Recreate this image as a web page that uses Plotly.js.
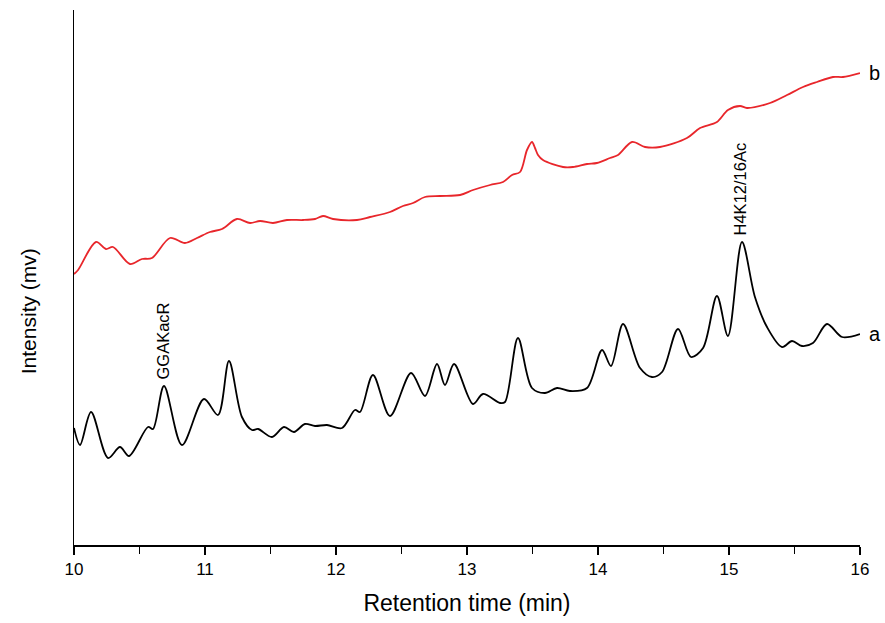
<!DOCTYPE html>
<html>
<head>
<meta charset="utf-8">
<script src="https://cdn.plot.ly/plotly-3.0.1.min.js"></script>
<style>html,body{margin:0;padding:0;background:#fff;}#chart{width:885px;height:623px;}</style>
</head>
<body>
<div id="chart"></div>
<script>
// Trace a (black) — retention time (min) and intensity (arbitrary mV units)
const timeA = [10.000,10.046,10.130,10.260,10.351,10.420,10.565,10.603,10.687,10.824,10.992,11.099,11.183,11.282,11.359,11.405,11.511,11.603,11.679,11.763,11.840,11.931,12.046,12.145,12.183,12.282,12.412,12.573,12.679,12.771,12.832,12.901,13.046,13.122,13.252,13.290,13.389,13.496,13.595,13.687,13.786,13.916,14.031,14.099,14.191,14.321,14.412,14.489,14.611,14.710,14.802,14.908,14.992,15.099,15.198,15.290,15.405,15.481,15.557,15.641,15.748,15.863,16.000];
const intensityA = [117,100,133,87,98,89,118,116,159,100,146,130,184,128,115,116,108,118,113,121,119,120,117,135,133,170,129,172,149,181,160,181,141,151,142,143,207,157,152,157,154,157,195,179,221,177,168,173,216,188,197,249,209,303,248,218,198,204,199,202,221,208,211];

// Trace b (red)
const timeB = [10.000,10.031,10.168,10.244,10.298,10.427,10.519,10.595,10.733,10.847,10.939,11.038,11.130,11.244,11.344,11.420,11.519,11.626,11.748,11.840,11.901,11.977,12.160,12.260,12.412,12.511,12.588,12.679,12.794,12.947,13.046,13.176,13.275,13.344,13.405,13.458,13.496,13.519,13.542,13.580,13.733,13.809,13.916,13.992,14.092,14.153,14.260,14.359,14.473,14.679,14.779,14.908,14.992,15.084,15.137,15.313,15.443,15.565,15.672,15.794,15.870,16.000];
const intensityB = [271,275,303,296,298,281,286,287,307,302,307,313,316,326,322,324,322,325,325,326,329,326,325,328,333,339,342,348,349,350,355,360,363,370,373,395,403,397,390,385,378,378,381,382,387,390,403,398,398,407,417,423,435,439,437,442,450,458,463,468,468,472];

const xTicks = [10,11,12,13,14,15,16];
const xTickLabels = ['10','11','12','13','14','15','16'];
const peakLabels = ['GGAKacR','H4K12/16Ac'];
const peakTimes = [10.687,15.099];
const peakLabelBase = [163,308];

const FONT = 'Liberation Sans, Arial, sans-serif';

const traces = [
  {x: timeA, y: intensityA, type:'scatter', mode:'lines', line:{color:'#000000', width:1.8, shape:'spline', smoothing:0.9}, hoverinfo:'skip'},
  {x: timeB, y: intensityB, type:'scatter', mode:'lines', line:{color:'#e8262b', width:1.8, shape:'spline', smoothing:0.9}, hoverinfo:'skip'}
];

const annotations = [
  {x:16, y:intensityA[intensityA.length-1], xref:'x', yref:'y', text:'a', showarrow:false, xanchor:'left', xshift:7, font:{family:FONT, size:20, color:'#000'}},
  {x:16, y:intensityB[intensityB.length-1], xref:'x', yref:'y', text:'b', showarrow:false, xanchor:'left', xshift:7, font:{family:FONT, size:20, color:'#000'}},
  {x:-0.0585, y:0.437, xref:'paper', yref:'paper', text:'Intensity (mv)', textangle:-90, showarrow:false, xanchor:'center', yanchor:'middle', font:{family:FONT, size:21, color:'#000'}}
];
for (let i=0;i<peakLabels.length;i++){
  annotations.push({x:peakTimes[i], y:peakLabelBase[i], xref:'x', yref:'y', text:peakLabels[i], textangle:-90, showarrow:false, xanchor:'center', yanchor:'bottom', xshift:-2, font:{family:FONT, size:16.5, color:'#000'}});
}

const layout = {
  width:885, height:623,
  margin:{l:74, r:25, t:10, b:78, pad:0},
  paper_bgcolor:'#ffffff', plot_bgcolor:'#ffffff',
  showlegend:false,
  xaxis:{
    range:[10,16], tickvals:xTicks, ticktext:xTickLabels,
    ticks:'outside', ticklen:8, tickwidth:1.5, tickcolor:'#000',
    minor:{dtick:0.5, ticks:'outside', ticklen:7, tickwidth:1.5, tickcolor:'#000'},
    showline:true, linecolor:'#000', linewidth:1.5, mirror:false,
    showgrid:false, zeroline:false,
    tickfont:{family:FONT, size:17, color:'#000'},
    title:{text:'Retention time (min)', font:{family:FONT, size:23, color:'#000'}, standoff:17}
  },
  yaxis:{
    range:[0,535], showticklabels:false, ticks:'',
    showline:true, linecolor:'#000', linewidth:1.5,
    showgrid:false, zeroline:false
  },
  annotations:annotations
};

Plotly.newPlot('chart', traces, layout, {staticPlot:true, displayModeBar:false});
</script>
</body>
</html>
